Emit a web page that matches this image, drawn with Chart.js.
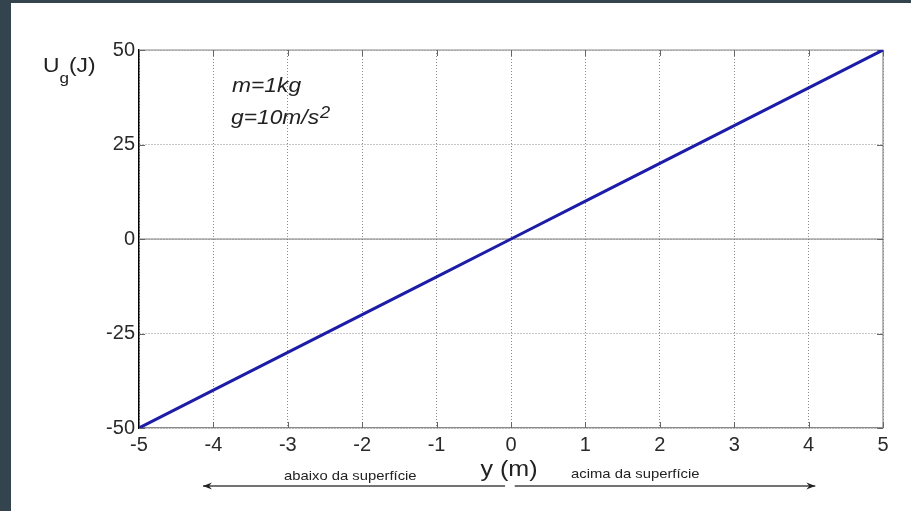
<!DOCTYPE html>
<html>
<head>
<meta charset="utf-8">
<script src="https://cdn.jsdelivr.net/npm/chart.js@4"></script>
<style>
  html, body { margin: 0; padding: 0; background: #34444f; }
  #wrap { position: absolute; left: 11px; top: 3px; width: 900px; height: 508px; background: #fff; }
</style>
</head>
<body>
<div id="wrap"><canvas id="c"></canvas></div>
<script>
// altura y (m) e energia potencial Ug (J)
const heights = [-5, -4, -3, -2, -1, 0, 1, 2, 3, 4, 5];
const energies = [-50, -40, -30, -20, -10, 0, 10, 20, 30, 40, 50];
const yTickValues = [-50, -25, 0, 25, 50];

const FONT = "'Liberation Sans', Arial, sans-serif";
const STRETCH = 1.14; // o original esta um pouco esticado na horizontal

function wideText(ctx, text, x, y, font, align) {
  ctx.save();
  ctx.font = font;
  ctx.translate(x, y);
  ctx.scale(STRETCH, 1);
  ctx.textAlign = align || 'left';
  ctx.textBaseline = 'alphabetic';
  ctx.fillText(text, 0, 0);
  const w = ctx.measureText(text).width * STRETCH;
  ctx.restore();
  return w;
}

function arrow(ctx, x1, x2, y) {
  const dir = Math.sign(x2 - x1);
  ctx.save();
  ctx.strokeStyle = '#444';
  ctx.fillStyle = '#222';
  ctx.lineWidth = 1.3;
  ctx.beginPath();
  ctx.moveTo(x1, y);
  ctx.lineTo(x2, y);
  ctx.stroke();
  ctx.beginPath();
  ctx.moveTo(x2, y);
  ctx.lineTo(x2 - dir * 9, y - 3.5);
  ctx.lineTo(x2 - dir * 6, y);
  ctx.lineTo(x2 - dir * 9, y + 3.5);
  ctx.closePath();
  ctx.fill();
  ctx.restore();
}

const decorations = {
  id: 'decorations',
  beforeDatasetsDraw(chart) {
    const { ctx, chartArea: a, scales: { x, y } } = chart;
    ctx.save();
    // linha do zero
    ctx.strokeStyle = '#808080';
    ctx.lineWidth = 1.2;
    ctx.beginPath();
    ctx.moveTo(a.left, y.getPixelForValue(0));
    ctx.lineTo(a.right, y.getPixelForValue(0));
    ctx.stroke();
    // moldura superior e direita
    ctx.strokeStyle = '#8a8a8a';
    ctx.beginPath();
    ctx.moveTo(a.left, a.top);
    ctx.lineTo(a.right, a.top);
    ctx.lineTo(a.right, a.bottom);
    ctx.stroke();
    // marcas para dentro
    ctx.strokeStyle = '#666';
    ctx.lineWidth = 1;
    heights.forEach(v => {
      const px = Math.round(x.getPixelForValue(v)) + 0.5;
      ctx.beginPath();
      ctx.moveTo(px, a.bottom); ctx.lineTo(px, a.bottom - 6);
      ctx.moveTo(px, a.top); ctx.lineTo(px, a.top + 6);
      ctx.stroke();
    });
    yTickValues.forEach(v => {
      const py = Math.round(y.getPixelForValue(v)) + 0.5;
      ctx.beginPath();
      ctx.moveTo(a.left, py); ctx.lineTo(a.left + 6, py);
      ctx.moveTo(a.right, py); ctx.lineTo(a.right - 6, py);
      ctx.stroke();
    });
    ctx.restore();
  },
  afterDraw(chart) {
    const { ctx, chartArea: a, scales: { x, y } } = chart;
    ctx.save();
    ctx.fillStyle = '#222';
    // rotulo do eixo vertical
    let px = 32;
    px += wideText(ctx, 'U', px, 69, '20px ' + FONT);
    const gw = wideText(ctx, 'g', px, 80, '15px ' + FONT);
    wideText(ctx, '(J)', px + gw, 69, '20px ' + FONT);
    // rotulo do eixo horizontal
    wideText(ctx, 'y (m)', x.getPixelForValue(0) - 2, a.bottom + 48, '22px ' + FONT, 'center');
    // parametros
    const ax = x.getPixelForValue(-3.75);
    wideText(ctx, 'm=1kg', ax, y.getPixelForValue(39), 'italic 20px ' + FONT);
    const w2 = wideText(ctx, 'g=10m/s', ax - 1, y.getPixelForValue(30.3), 'italic 20px ' + FONT);
    wideText(ctx, '2', ax + w2, y.getPixelForValue(32), 'italic 16px ' + FONT);
    // setas abaixo / acima
    const ay = a.bottom + 58;
    arrow(ctx, x.getPixelForValue(-0.08), x.getPixelForValue(-4.14), ay);
    arrow(ctx, x.getPixelForValue(0.05), x.getPixelForValue(4.09), ay);
    wideText(ctx, 'abaixo da superfície', x.getPixelForValue(-2.16), ay - 6, '13px ' + FONT, 'center');
    wideText(ctx, 'acima da superfície', x.getPixelForValue(1.67), ay - 8, '13px ' + FONT, 'center');
    ctx.restore();
  }
};

new Chart(document.getElementById('c'), {
  type: 'line',
  data: {
    datasets: [{
      data: heights.map((h, i) => ({ x: h, y: energies[i] })),
      borderColor: '#1c1ca8',
      borderWidth: 3,
      pointRadius: 0,
      tension: 0
    }]
  },
  options: {
    responsive: true,
    maintainAspectRatio: false,
    animation: false,
    layout: { padding: { top: 47, right: 28, left: 0, bottom: 0 } },
    plugins: { legend: { display: false }, tooltip: { enabled: false } },
    scales: {
      x: {
        type: 'linear',
        min: -5,
        max: 5,
        afterFit: s => { s.height = 83; },
        ticks: { stepSize: 1, padding: 5, color: '#2a2a2a', font: { family: FONT, size: 20 } },
        grid: { color: 'rgba(0,0,0,0.45)', drawTicks: false },
        border: { color: '#8a8a8a', width: 1.2, dash: [1, 2] }
      },
      y: {
        min: -50,
        max: 50,
        afterFit: s => { s.width = 128; },
        afterBuildTicks: s => { s.ticks = yTickValues.map(v => ({ value: v })); },
        ticks: { padding: 4, color: '#2a2a2a', font: { family: FONT, size: 20 } },
        grid: { color: 'rgba(0,0,0,0.45)', drawTicks: false },
        border: { color: '#000', width: 1.5, dash: [1, 2] }
      }
    }
  },
  plugins: [decorations]
});
</script>
</body>
</html>
